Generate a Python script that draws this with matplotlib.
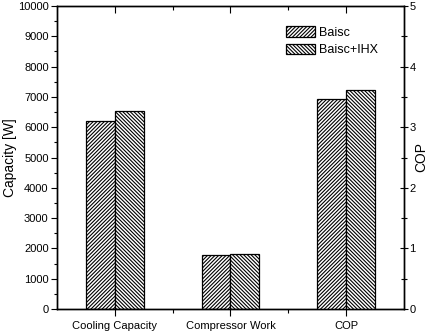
import matplotlib
matplotlib.use("Agg")
import matplotlib.pyplot as plt
import numpy as np

plt.rcParams['font.family'] = ['Liberation Sans', 'DejaVu Sans']
plt.rcParams['hatch.linewidth'] = 0.8

categories = ["Cooling Capacity", "Compressor Work", "COP"]
series_names = ["Baisc", "Baisc+IHX"]
capacity_basic = [6200, 1790]
capacity_ihx = [6550, 1830]
cop_basic = 3.47
cop_ihx = 3.61
left_ticks = [0, 1000, 2000, 3000, 4000, 5000, 6000, 7000, 8000, 9000, 10000]
right_ticks = [0, 1, 2, 3, 4, 5]

fig = plt.figure(figsize=(4.3, 3.34), dpi=100)
ax = fig.add_axes([57/430, 1 - 309/334, (404-57)/430, (309-6)/334])
ax2 = ax.twinx()

x = np.arange(1, len(categories) + 1)
w = 0.25
hatches = ['/' * 9, '\\' * 9]

b1 = ax.bar(x[:2] - w/2, capacity_basic, w, facecolor='white', edgecolor='black',
            hatch=hatches[0], linewidth=0.9, label=series_names[0])
b2 = ax.bar(x[:2] + w/2, capacity_ihx, w, facecolor='white', edgecolor='black',
            hatch=hatches[1], linewidth=0.9, label=series_names[1])
ax2.bar([x[2] - w/2], [cop_basic], w, facecolor='white', edgecolor='black',
        hatch=hatches[0], linewidth=0.9)
ax2.bar([x[2] + w/2], [cop_ihx], w, facecolor='white', edgecolor='black',
        hatch=hatches[1], linewidth=0.9)

ax.set_xlim(0.5, 3.5)
ax.set_ylim(0, 10000)
ax2.set_ylim(0, 5)
ax.set_xticks(x)
ax.set_xticklabels(categories, fontsize=8)
ax.set_xticks([1.5, 2.5], minor=True)
ax.set_yticks(left_ticks)
ax.set_yticklabels([str(t) for t in left_ticks], fontsize=8)
ax.set_yticks(np.arange(500, 10000, 1000), minor=True)
ax2.set_yticks(right_ticks)
ax2.set_yticklabels([str(t) for t in right_ticks], fontsize=8)
ax2.set_yticks(np.arange(0.5, 5, 1), minor=True)

ax.tick_params(axis='x', which='major', direction='out', length=5, width=0.8, top=True)
ax.tick_params(axis='x', which='minor', direction='out', length=3, width=0.8, top=True)
ax.tick_params(axis='y', which='major', direction='out', length=4, width=0.8, pad=2)
ax.tick_params(axis='y', which='minor', direction='out', length=2.5, width=0.8)
ax2.tick_params(axis='y', which='major', direction='inout', length=6, width=0.8, pad=1)
ax2.tick_params(axis='y', which='minor', direction='inout', length=4, width=0.8)
for t in ax.xaxis.get_major_ticks() + ax.xaxis.get_minor_ticks():
    t.tick2line.set_marker(matplotlib.markers.TICKDOWN)

for sp in ax.spines.values():
    sp.set_linewidth(1.0)
for sp in ax2.spines.values():
    sp.set_linewidth(1.0)

ax.set_ylabel("Capacity [W]", fontsize=10, labelpad=1)
ax2.set_ylabel("COP", fontsize=10, labelpad=-1)

ax.legend(handles=[b1, b2], loc='upper left', bbox_to_anchor=(0.627, 0.97),
          frameon=False, fontsize=9, handlelength=2.3, handleheight=0.9,
          handletextpad=0.35, labelspacing=0.4)

fig.savefig("out.png", dpi=100)
